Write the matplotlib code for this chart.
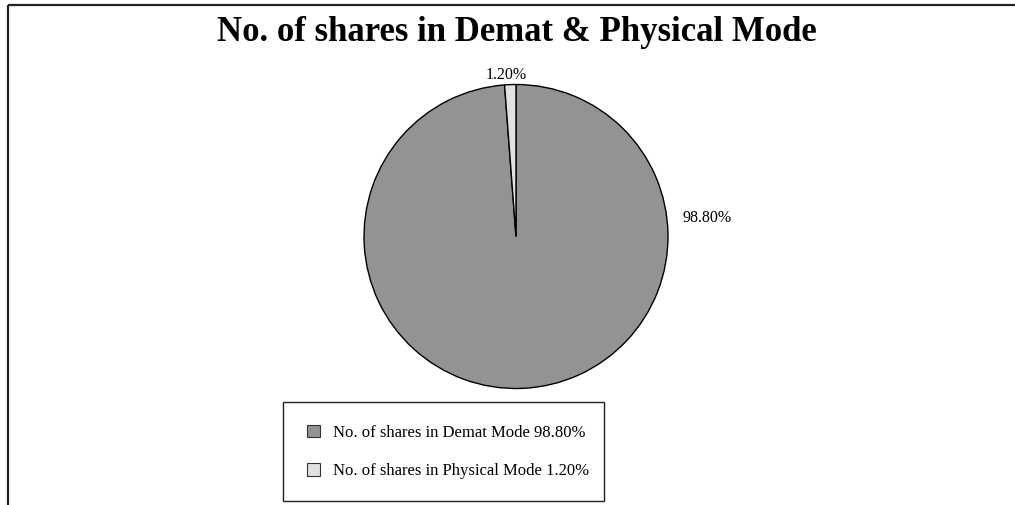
import matplotlib
matplotlib.use("Agg")
import matplotlib.pyplot as plt
from matplotlib.lines import Line2D
from matplotlib.patches import Patch, Rectangle

categories = ["No. of shares in Demat Mode", "No. of shares in Physical Mode"]
values = [98.80, 1.20]
colors = ["#939393", "#e1e1e1"]
pct_labels = ["98.80%", "1.20%"]
title = "No. of shares in Demat & Physical Mode"

plt.rcParams['font.family'] = ['Liberation Serif', 'DejaVu Serif']

W, H = 1015, 505
fig = plt.figure(figsize=(W / 100, H / 100), dpi=100)
fig.patch.set_facecolor("white")

# border (left and top only)
fig.add_artist(Line2D([7.5 / W, 7.5 / W], [0, 1 - 5 / H], transform=fig.transFigure,
                      color="#222222", lw=1.6, solid_capstyle="butt"))
fig.add_artist(Line2D([7.5 / W, 1], [1 - 5 / H, 1 - 5 / H], transform=fig.transFigure,
                      color="#222222", lw=1.6, solid_capstyle="butt"))

fig.text(517 / W, 1 - 32.5 / H, title, ha="center", va="center",
         fontsize=25, fontweight="bold")

cx, cy, r = 516, 236.5, 152
ax = fig.add_axes([(cx - r) / W, 1 - (cy + r) / H, 2 * r / W, 2 * r / H])
wedges, _ = ax.pie(values, colors=colors, startangle=90, counterclock=False,
                   wedgeprops=dict(edgecolor="black", linewidth=1.0))
ax.set_xlim(-1, 1)
ax.set_ylim(-1, 1)
ax.set_aspect("equal")
ax.axis("off")

ax.text(1.26, 0.12, pct_labels[0], ha="center", va="center", fontsize=11.5)
ax.text(-0.066, 1.065, pct_labels[1], ha="center", va="center", fontsize=11.5)

# legend box
fig.add_artist(Rectangle((283 / W, 1 - 501 / H), (604 - 283) / W, (501 - 402) / H,
                         transform=fig.transFigure, facecolor="white",
                         edgecolor="#222222", linewidth=1.0))

handles = [Patch(facecolor=c, edgecolor="#333333", linewidth=0.8) for c in colors]
labels = [f"{c} {p}" for c, p in zip(categories, pct_labels)]
leg = fig.legend(handles, labels, loc="center left",
                 bbox_to_anchor=(307 / W, 1 - 452 / H),
                 fontsize=12.0, frameon=False,
                 handlelength=0.8, handleheight=0.8, handletextpad=0.78,
                 labelspacing=1.35, borderpad=0, borderaxespad=0)

fig.savefig("out.png", dpi=100)
